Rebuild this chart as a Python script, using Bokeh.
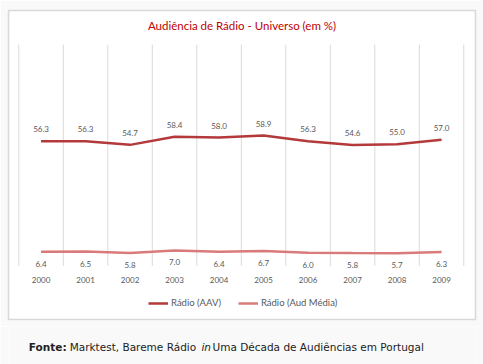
from bokeh.plotting import figure
from bokeh.layouts import column
from bokeh.models import Range1d, Label, Legend, LegendItem, ColumnDataSource
from bokeh.core.properties import value
from bokeh.embed import file_html
from bokeh.resources import INLINE

# ---- data ----
years = ["2000", "2001", "2002", "2003", "2004", "2005", "2006", "2007", "2008", "2009"]
aav = [56.3, 56.3, 54.7, 58.4, 58.0, 58.9, 56.3, 54.6, 55.0, 57.0]
aud_media = [6.4, 6.5, 5.8, 7.0, 6.4, 6.7, 6.0, 5.8, 5.7, 6.3]
series_names = ["Rádio (AAV)", "Rádio (Aud Média)"]
title_text = "Audiência de Rádio - Universo (em %)"
caption_parts = ["Fonte:", "Marktest, Bareme Rádio", "in", "Uma Década de Audiências em Portugal"]
y_min, y_max = 0, 100

# ---- styles ----
C_AAV = "#b3393b"
C_AUD = "#d97b7b"
GRID = "#dadada"
LBL = "#595959"
FONT = "Lato"
PAGE_BG = "#f9f9f9"

idx = list(range(len(years)))
src = ColumnDataSource(dict(
    x=idx, year=years, aav=aav, aud=aud_media,
    aav_lbl=[f"{v:.1f}" for v in aav],
    aud_lbl=[f"{v:.1f}" for v in aud_media],
))

xr = Range1d(-0.7315, 9.763)
yr = Range1d(-24.2, 115.4)

p = figure(width=483, height=326, output_backend="svg", toolbar_location=None,
           x_axis_type=None, y_axis_type=None, x_range=xr, y_range=yr,
           min_border_left=8, min_border_right=8, min_border_top=10, min_border_bottom=7,
           border_fill_color=PAGE_BG, background_fill_color="white",
           outline_line_color="#d9d9d9", outline_line_width=1.6, title=None)

# vertical category gridlines
bounds = [i - 0.5 for i in range(len(years) + 1)]
p.segment(x0=bounds, y0=[y_min] * len(bounds), x1=bounds, y1=[y_max] * len(bounds),
          line_color=GRID, line_width=1)

r1 = p.line("x", "aav", source=src, line_color=C_AAV, line_width=2.5)
r2 = p.line("x", "aud", source=src, line_color=C_AUD, line_width=2.5)

p.text(x="x", y="aav", text="aav_lbl", source=src, y_offset=-12,
       text_align="center", text_baseline="middle", text_font=value(FONT),
       text_font_size="8px", text_color=LBL)
p.text(x="x", y="aud", text="aud_lbl", source=src, y_offset=12,
       text_align="center", text_baseline="middle", text_font=value(FONT),
       text_font_size="8px", text_color=LBL)
p.text(x="x", y=y_min, text="year", source=src, y_offset=14,
       text_align="center", text_baseline="middle", text_font=value(FONT),
       text_font_size="8px", text_color=LBL)

p.add_layout(Label(x=(xr.start + xr.end) / 2, y=108.6, text=title_text,
                   text_align="center", text_baseline="middle", text_font=FONT,
                   text_font_size="11.5px", text_color="#c00000"))

legend = Legend(items=[LegendItem(label=series_names[0], renderers=[r1]),
                       LegendItem(label=series_names[1], renderers=[r2])],
                orientation="horizontal", location=(140, 11), padding=0, margin=0,
                spacing=17, glyph_width=20, glyph_height=10, label_standoff=3,
                label_text_font=FONT, label_text_font_size="9.5px",
                label_text_color=LBL, border_line_color=None, background_fill_alpha=0)
p.add_layout(legend)

# ---- caption strip ----
cap_h = 38
c = figure(width=483, height=cap_h, output_backend="svg", toolbar_location=None,
           x_axis_type=None, y_axis_type=None, x_range=Range1d(0, 483), y_range=Range1d(0, cap_h),
           min_border=0, border_fill_color=PAGE_BG, background_fill_color=PAGE_BG,
           outline_line_color=None, title=None)
cap_x = [21, 63.3, 199.5, 211]
cap_style = ["bold", "normal", "italic", "normal"]
for t, xx, st in zip(caption_parts, cap_x, cap_style):
    c.text(x=[xx], y=[18], text=[t], text_align="left", text_baseline="middle",
           text_font=value("DejaVu Sans"), text_font_size="10.5px",
           text_font_style=st, text_color="#222222")

layout = column(p, c, spacing=0)
open("out.html", "w").write(file_html(layout, INLINE))
